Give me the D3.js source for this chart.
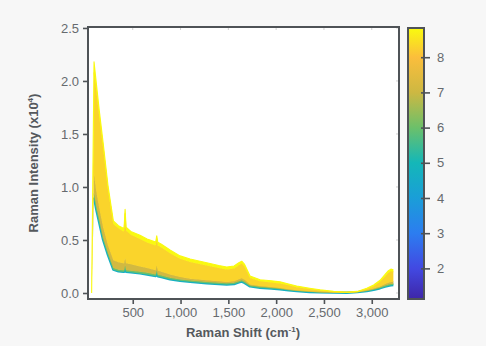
<!DOCTYPE html>
<html>
<head>
<meta charset="utf-8">
<script src="https://cdn.jsdelivr.net/npm/d3@7/dist/d3.min.js"></script>
<style>
  html, body { margin: 0; padding: 0; background: #f7f7f7; }
  svg { display: block; font-family: "Liberation Sans", Arial, Helvetica, sans-serif; }
</style>
</head>
<body>
<svg id="chart" width="486" height="346"></svg>
<script>
// ---- data ----
const ramanShift = [70, 95, 120, 150, 190, 240, 297, 350, 402, 410, 420, 430, 480, 576, 650, 740, 751, 762, 800, 890, 995, 1100, 1274, 1400, 1483, 1560, 1610, 1640, 1670, 1727, 1832, 1950, 2041, 2130, 2215, 2350, 2459, 2600, 2739, 2850, 2948, 3020, 3087, 3140, 3174, 3200, 3226];
const seriesLevels = [4.7, 6.0, 7.1, 8.3, 8.8];
const spectrum47 = [0, 0.9, 0.78, 0.66, 0.5, 0.36, 0.22, 0.205, 0.2, 0.2, 0.245, 0.2, 0.195, 0.185, 0.175, 0.16, 0.2, 0.158, 0.15, 0.13, 0.115, 0.105, 0.092, 0.085, 0.08, 0.085, 0.1, 0.108, 0.095, 0.062, 0.05, 0.042, 0.035, 0.025, 0.018, 0.01, 0.007, 0.004, 0.003, 0.008, 0.018, 0.03, 0.045, 0.06, 0.068, 0.073, 0.075];
const spectrum60 = [0, 0.94, 0.81, 0.69, 0.52, 0.38, 0.235, 0.22, 0.215, 0.215, 0.26, 0.215, 0.21, 0.2, 0.19, 0.174, 0.214, 0.172, 0.164, 0.143, 0.127, 0.117, 0.103, 0.096, 0.091, 0.096, 0.112, 0.12, 0.106, 0.071, 0.058, 0.05, 0.042, 0.031, 0.023, 0.014, 0.01, 0.006, 0.004, 0.01, 0.022, 0.036, 0.053, 0.07, 0.08, 0.085, 0.087];
const spectrum71 = [0, 1.12, 0.95, 0.8, 0.62, 0.45, 0.31, 0.29, 0.28, 0.28, 0.33, 0.28, 0.27, 0.25, 0.235, 0.215, 0.26, 0.212, 0.2, 0.175, 0.15, 0.135, 0.12, 0.11, 0.104, 0.11, 0.13, 0.14, 0.125, 0.08, 0.066, 0.056, 0.048, 0.036, 0.027, 0.017, 0.011, 0.007, 0.005, 0.012, 0.026, 0.042, 0.062, 0.085, 0.097, 0.104, 0.106];
const spectrum83 = [0, 2.08, 1.9, 1.66, 1.37, 0.98, 0.65, 0.61, 0.58, 0.59, 0.75, 0.59, 0.55, 0.51, 0.477, 0.448, 0.51, 0.448, 0.428, 0.375, 0.322, 0.292, 0.26, 0.236, 0.222, 0.232, 0.262, 0.278, 0.248, 0.142, 0.11, 0.1, 0.09, 0.072, 0.055, 0.037, 0.024, 0.011, 0.006, 0.012, 0.038, 0.064, 0.105, 0.155, 0.19, 0.205, 0.2];
const spectrum88 = [0, 2.18, 1.97, 1.72, 1.42, 1.02, 0.68, 0.635, 0.61, 0.62, 0.79, 0.62, 0.58, 0.545, 0.51, 0.48, 0.54, 0.48, 0.46, 0.405, 0.35, 0.32, 0.286, 0.26, 0.245, 0.255, 0.285, 0.30, 0.27, 0.16, 0.125, 0.115, 0.105, 0.085, 0.066, 0.045, 0.03, 0.015, 0.008, 0.015, 0.045, 0.075, 0.12, 0.175, 0.21, 0.225, 0.22];
const xTickValues = [500, 1000, 1500, 2000, 2500, 3000];
const yTickValues = [0, 0.5, 1.0, 1.5, 2.0, 2.5];
const colorbarTicks = [2, 3, 4, 5, 6, 7, 8];
const colorbarDomain = [1.13, 8.83];
// parula-like colormap
const parulaValues = [1.13, 2.0, 3.0, 4.0, 5.0, 6.0, 7.0, 8.0, 8.83];
const parulaColors = ["#3e26a8", "#4249e2", "#2c7df0", "#1a9ed8", "#14b7b8", "#6cc06a", "#cdb842", "#fbbe3c", "#f9fb0e"];

const allSpectra = [spectrum47, spectrum60, spectrum71, spectrum83, spectrum88];

// ---- layout ----
const svg = d3.select("#chart");
const L = 88, R = 399, T = 27, B = 299;
const axisColor = "#4f5357";
const textColor = "#666a6e";

const x = d3.scaleLinear().domain([32, 3285]).range([L, R]);
const y = d3.scaleLinear().domain([-0.0566, 2.509]).range([B, T]);
const color = d3.scaleLinear().domain(parulaValues).range(parulaColors).interpolate(d3.interpolateRgb);

svg.append("rect").attr("x", L).attr("y", T).attr("width", R - L).attr("height", B - T).attr("fill", "#ffffff");

svg.append("clipPath").attr("id", "clip")
  .append("rect").attr("x", L).attr("y", T).attr("width", R - L).attr("height", B - T);

const plot = svg.append("g").attr("clip-path", "url(#clip)");

const rows = ramanShift.map((w, i) => ({ w, i, v: allSpectra.map(s => s[i]) }));
const topIndex = allSpectra.length - 1;

// bands between consecutive spectra, coloured by their level
allSpectra.forEach((s, k) => {
  const c = color(seriesLevels[k]);
  if (k > 0) {
    const area = d3.area()
      .x(d => x(d.w))
      .y0(d => y(d.v[k - 1]))
      .y1(d => y(d.v[k]));
    plot.append("path").datum(rows).attr("d", area).attr("fill", c);
  }
  const line = d3.line()
    .defined(d => k === topIndex || d.i > 0)
    .x(d => x(d.w)).y(d => y(d.v[k]));
  plot.append("path").datum(rows).attr("d", line)
    .attr("fill", "none").attr("stroke", c)
    .attr("stroke-width", k === 0 ? 2.4 : 1.1)
    .attr("stroke-linejoin", "round");
});

// faint mirror ticks on top and right
svg.append("g").selectAll("line").data(xTickValues).join("line")
  .attr("x1", d => x(d)).attr("x2", d => x(d)).attr("y1", T).attr("y2", T + 3)
  .attr("stroke", "#d0d0d0").attr("stroke-width", 1);
svg.append("g").selectAll("line").data(yTickValues).join("line")
  .attr("x1", R - 3).attr("x2", R).attr("y1", d => y(d)).attr("y2", d => y(d))
  .attr("stroke", "#d0d0d0").attr("stroke-width", 1);

// axes
const xAxis = svg.append("g").attr("transform", `translate(0,${B})`)
  .call(d3.axisBottom(x).tickValues(xTickValues).tickFormat(d3.format(",")).tickSize(5).tickSizeOuter(0));
const yAxis = svg.append("g").attr("transform", `translate(${L},0)`)
  .call(d3.axisLeft(y).tickValues(yTickValues).tickFormat(d3.format(".1f")).tickSize(5).tickSizeOuter(0));
[xAxis, yAxis].forEach(g => {
  g.select(".domain").remove();
  g.selectAll(".tick line").attr("stroke", axisColor).attr("stroke-width", 1.6);
  g.selectAll(".tick text").attr("fill", textColor).attr("font-size", 13)
    .attr("font-family", "'Liberation Sans', Arial, sans-serif");
});
xAxis.selectAll(".tick text").attr("dy", "0.71em").attr("y", 9);
yAxis.selectAll(".tick text").attr("x", -9);

// frame
svg.append("rect").attr("x", L).attr("y", T).attr("width", R - L).attr("height", B - T)
  .attr("fill", "none").attr("stroke", axisColor).attr("stroke-width", 2);

// axis titles
const xt = svg.append("text").attr("x", 243).attr("y", 337).attr("text-anchor", "middle")
  .attr("font-size", 13).attr("font-weight", "bold").attr("fill", "#55595d");
xt.append("tspan").text("Raman Shift (cm");
xt.append("tspan").attr("font-size", 8).attr("dy", -5).text("-1");
xt.append("tspan").attr("dy", 5).text(")");

const yt = svg.append("text").attr("transform", "translate(38,163) rotate(-90)")
  .attr("text-anchor", "middle").attr("font-size", 13).attr("font-weight", "bold").attr("fill", "#55595d");
yt.append("tspan").text("Raman Intensity (x10");
yt.append("tspan").attr("font-size", 8).attr("dy", -5).text("4");
yt.append("tspan").attr("dy", 5).text(")");

// colorbar
const cbX = 408, cbW = 16, cbT = 28, cbB = 299;
const cbScale = d3.scaleLinear().domain(colorbarDomain).range([cbB, cbT]);
const grad = svg.append("defs").append("linearGradient").attr("id", "cbgrad")
  .attr("x1", 0).attr("y1", 1).attr("x2", 0).attr("y2", 0);
grad.selectAll("stop").data(parulaValues).join("stop")
  .attr("offset", d => (d - colorbarDomain[0]) / (colorbarDomain[1] - colorbarDomain[0]))
  .attr("stop-color", d => color(d));
svg.append("rect").attr("x", cbX).attr("y", cbT).attr("width", cbW).attr("height", cbB - cbT)
  .attr("fill", "url(#cbgrad)").attr("stroke", axisColor).attr("stroke-width", 2);
const cbAxis = svg.append("g").attr("transform", `translate(${cbX + cbW - 3},0)`)
  .call(d3.axisRight(cbScale).tickValues(colorbarTicks).tickFormat(d3.format("d")).tickSize(9).tickSizeOuter(0));
cbAxis.select(".domain").remove();
cbAxis.selectAll(".tick line").attr("stroke", axisColor).attr("stroke-width", 1.6);
cbAxis.selectAll(".tick text").attr("fill", textColor).attr("font-size", 13).attr("x", 16)
  .attr("font-family", "'Liberation Sans', Arial, sans-serif");
</script>
</body>
</html>
